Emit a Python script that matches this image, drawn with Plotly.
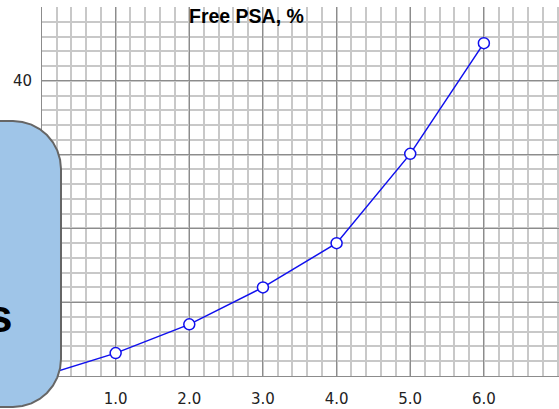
import plotly.graph_objects as go

# Data
x_vals = [0.0, 1.0, 2.0, 3.0, 4.0, 5.0, 6.0]
y_vals = [0.0, 3.1, 7.0, 12.0, 18.0, 30.1, 45.1]
x_tickvals = [1, 2, 3, 4, 5, 6]
x_ticktext = ["1.0", "2.0", "3.0", "4.0", "5.0", "6.0"]
y_tickvals = [0, 10, 20, 30, 40]
y_ticktext = ["", "", "", "", "40"]  # lower labels are hidden behind the box
title_text = "Free PSA, %"
box_text = "s"

W, H = 559, 409
ML, MR, MT, MB = 42, 0, 7, 33
PW, PH = W - ML - MR, H - MT - MB


def px2paper(px, py):
    return (px - ML) / PW, (H - MB - py) / PH


def rounded_rect(x0, y0, x1, y1, r):
    import math
    pts = []
    corners = [(x1 - r, y0 + r, -90, 0), (x1 - r, y1 - r, 0, 90),
               (x0 + r, y1 - r, 90, 180), (x0 + r, y0 + r, 180, 270)]
    for cx, cy, a0, a1 in corners:
        for i in range(9):
            a = math.radians(a0 + (a1 - a0) * i / 8)
            pts.append(px2paper(cx + r * math.cos(a), cy + r * math.sin(a)))
    d = "M " + " L ".join(f"{p[0]:.5f},{p[1]:.5f}" for p in pts) + " Z"
    return d


fig = go.Figure()
fig.add_trace(go.Scatter(
    x=x_vals, y=y_vals, mode="lines+markers",
    line=dict(color="#1010ee", width=1.5),
    marker=dict(size=11, color="white", line=dict(color="#1010ee", width=1.5)),
    showlegend=False, cliponaxis=False,
))

fig.update_layout(
    width=W, height=H,
    margin=dict(l=ML, r=MR, t=MT, b=MB, autoexpand=False),
    paper_bgcolor="white", plot_bgcolor="white",
    xaxis=dict(
        range=[0, 7.02], tickvals=x_tickvals, ticktext=x_ticktext,
        showgrid=True, gridcolor="#8c8c8c", gridwidth=1.2,
        minor=dict(dtick=0.2, tick0=0, showgrid=True, gridcolor="#c8c8c8", gridwidth=1.8),
        showline=True, linecolor="#8c8c8c", linewidth=1,
        zeroline=False, ticks="", ticklen=0, automargin=False,
        ticklabelstandoff=9,
        tickfont=dict(family="DejaVu Sans", size=15, color="#222222"),
    ),
    yaxis=dict(
        range=[0, 50], tickvals=y_tickvals, ticktext=y_ticktext,
        showgrid=True, gridcolor="#8c8c8c", gridwidth=1.2,
        minor=dict(dtick=2, tick0=0, showgrid=True, gridcolor="#c8c8c8", gridwidth=1.8),
        showline=True, linecolor="#8c8c8c", linewidth=1,
        zeroline=False, ticks="", ticklen=0, automargin=False,
        ticklabelstandoff=6,
        tickfont=dict(family="DejaVu Sans", size=15, color="#222222"),
    ),
    font=dict(family="DejaVu Sans"),
)

bx, by = px2paper(246, 16)
fig.add_annotation(
    x=bx, y=by, xref="paper", yref="paper", text=f"<b>{title_text}</b>",
    showarrow=False, xanchor="center", yanchor="middle",
    font=dict(family="Liberation Sans", size=19.5, color="#000000"),
)

fig.add_shape(
    type="path", xref="paper", yref="paper",
    path=rounded_rect(-120, 121, 61, 407, 48),
    fillcolor="#9fc5e8", line=dict(color="#666666", width=2), layer="above",
)

tx, ty = px2paper(15, 316)
fig.add_annotation(
    x=tx, y=ty, xref="paper", yref="paper", text=f"<b>{box_text}</b>",
    showarrow=False, xanchor="right", yanchor="middle",
    font=dict(family="Liberation Sans", size=46, color="#000000"),
)

fig.write_html("out.html", config={"displayModeBar": False},
               post_script="document.body.style.margin='0';document.body.style.padding='0';")
